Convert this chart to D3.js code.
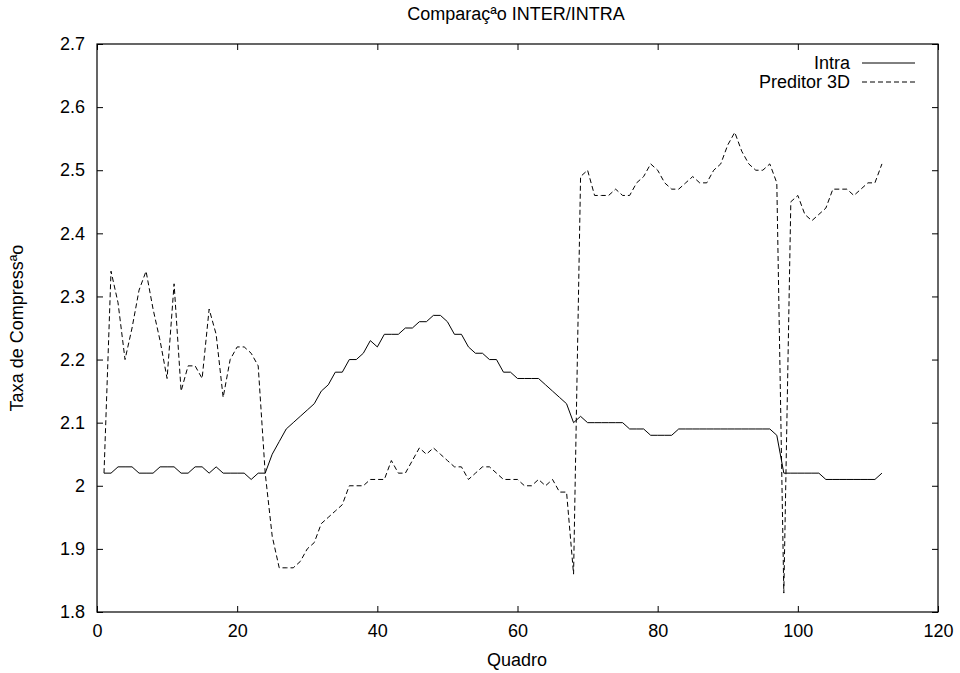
<!DOCTYPE html>
<html>
<head>
<meta charset="utf-8">
<script src="https://cdn.jsdelivr.net/npm/d3@7"></script>
<style>
body { margin: 0; background: #fff; }
text { font-family: "Liberation Sans", Arial, Helvetica, sans-serif; font-size: 18px; fill: #000; }
</style>
</head>
<body>
<svg id="chart" width="960" height="673"></svg>
<script>
const frames = d3.range(1, 113);
const intra = [
  2.02, 2.02, 2.03, 2.03, 2.03, 2.02, 2.02, 2.02, 2.03, 2.03,
  2.03, 2.02, 2.02, 2.03, 2.03, 2.02, 2.03, 2.02, 2.02, 2.02,
  2.02, 2.01, 2.02, 2.02, 2.05, 2.07, 2.09, 2.10, 2.11, 2.12,
  2.13, 2.15, 2.16, 2.18, 2.18, 2.20, 2.20, 2.21, 2.23, 2.22,
  2.24, 2.24, 2.24, 2.25, 2.25, 2.26, 2.26, 2.27, 2.27, 2.26,
  2.24, 2.24, 2.22, 2.21, 2.21, 2.20, 2.20, 2.18, 2.18, 2.17,
  2.17, 2.17, 2.17, 2.16, 2.15, 2.14, 2.13, 2.10, 2.11, 2.10,
  2.10, 2.10, 2.10, 2.10, 2.10, 2.09, 2.09, 2.09, 2.08, 2.08,
  2.08, 2.08, 2.09, 2.09, 2.09, 2.09, 2.09, 2.09, 2.09, 2.09,
  2.09, 2.09, 2.09, 2.09, 2.09, 2.09, 2.08, 2.02, 2.02, 2.02,
  2.02, 2.02, 2.02, 2.01, 2.01, 2.01, 2.01, 2.01, 2.01, 2.01,
  2.01, 2.02
];
const preditor3D = [
  2.02, 2.34, 2.29, 2.20, 2.25, 2.31, 2.34, 2.28, 2.23, 2.17,
  2.32, 2.15, 2.19, 2.19, 2.17, 2.28, 2.24, 2.14, 2.20, 2.22,
  2.22, 2.21, 2.19, 2.02, 1.92, 1.87, 1.87, 1.87, 1.88, 1.90,
  1.91, 1.94, 1.95, 1.96, 1.97, 2.00, 2.00, 2.00, 2.01, 2.01,
  2.01, 2.04, 2.02, 2.02, 2.04, 2.06, 2.05, 2.06, 2.05, 2.04,
  2.03, 2.03, 2.01, 2.02, 2.03, 2.03, 2.02, 2.01, 2.01, 2.01,
  2.00, 2.00, 2.01, 2.00, 2.01, 1.99, 1.99, 1.86, 2.49, 2.50,
  2.46, 2.46, 2.46, 2.47, 2.46, 2.46, 2.48, 2.49, 2.51, 2.50,
  2.48, 2.47, 2.47, 2.48, 2.49, 2.48, 2.48, 2.50, 2.51, 2.54,
  2.56, 2.53, 2.51, 2.50, 2.50, 2.51, 2.48, 1.83, 2.45, 2.46,
  2.43, 2.42, 2.43, 2.44, 2.47, 2.47, 2.47, 2.46, 2.47, 2.48,
  2.48, 2.51
];
const seriesNames = ["Intra", "Preditor 3D"];
const xTicks = [0, 20, 40, 60, 80, 100, 120];
const yTicks = [1.8, 1.9, 2.0, 2.1, 2.2, 2.3, 2.4, 2.5, 2.6, 2.7];
const yTickLabels = ["1.8", "1.9", "2", "2.1", "2.2", "2.3", "2.4", "2.5", "2.6", "2.7"];

const W = 960, H = 673;
const m = { left: 97, right: 22, top: 44, bottom: 61 };
const svg = d3.select("#chart");
const x = d3.scaleLinear().domain([0, 120]).range([m.left, W - m.right]);
const y = d3.scaleLinear().domain([1.8, 2.7]).range([H - m.bottom, m.top]);
const tickLen = 6;

// Axes (ticks inward, mirrored)
const fmtY = (d) => yTickLabels[yTicks.indexOf(d)];
svg.append("g").attr("transform", `translate(0,${H - m.bottom})`)
  .call(d3.axisBottom(x).tickValues(xTicks).tickSizeInner(-tickLen).tickSizeOuter(0).tickPadding(12).tickFormat(d3.format("d")))
  .call(g => g.select(".domain").remove())
  .call(g => g.selectAll("text").attr("dy", "0.71em").style("font-size", "18px").attr("font-family", null));
svg.append("g").attr("transform", `translate(0,${m.top})`)
  .call(d3.axisTop(x).tickValues(xTicks).tickSizeInner(-tickLen).tickSizeOuter(0).tickFormat(""))
  .call(g => g.select(".domain").remove());
svg.append("g").attr("transform", `translate(${m.left},0)`)
  .call(d3.axisLeft(y).tickValues(yTicks).tickSizeInner(-tickLen).tickSizeOuter(0).tickPadding(12).tickFormat(fmtY))
  .call(g => g.select(".domain").remove())
  .call(g => g.selectAll("text").style("font-size", "18px").attr("font-family", null));
svg.append("g").attr("transform", `translate(${W - m.right},0)`)
  .call(d3.axisRight(y).tickValues(yTicks).tickSizeInner(-tickLen).tickSizeOuter(0).tickFormat(""))
  .call(g => g.select(".domain").remove());
svg.selectAll(".tick line").attr("stroke", "#000");

// Frame
svg.append("rect")
  .attr("x", m.left).attr("y", m.top)
  .attr("width", W - m.left - m.right).attr("height", H - m.top - m.bottom)
  .attr("fill", "none").attr("stroke", "#000").attr("stroke-width", 1.2);

// Lines
const line = (vals) => d3.line().x((d, i) => x(frames[i])).y(d => y(d))(vals);
svg.append("path").attr("d", line(intra)).attr("fill", "none").attr("stroke", "#000").attr("stroke-width", 1);
svg.append("path").attr("d", line(preditor3D)).attr("fill", "none").attr("stroke", "#000").attr("stroke-width", 1).attr("stroke-dasharray", "5,3");

// Legend
const legY = [63, 82];
seriesNames.forEach((name, i) => {
  svg.append("text").attr("x", 850).attr("y", legY[i]).attr("dy", "0.35em").attr("text-anchor", "end").text(name);
  svg.append("line").attr("x1", 862).attr("x2", 915).attr("y1", legY[i]).attr("y2", legY[i])
    .attr("stroke", "#000").attr("stroke-width", 1).attr("stroke-dasharray", i === 1 ? "5,3" : null);
});

// Title
svg.append("text").attr("x", 516).attr("y", 14).attr("dy", "0.35em").attr("text-anchor", "middle")
  .text("Comparaçªo INTER/INTRA");

// Axis titles
svg.append("text").attr("x", 517).attr("y", 660).attr("dy", "0.35em").attr("text-anchor", "middle").text("Quadro");
svg.append("text").attr("transform", "translate(17,328) rotate(-90)").attr("dy", "0.35em").attr("text-anchor", "middle").text("Taxa de Compressªo");
</script>
</body>
</html>
